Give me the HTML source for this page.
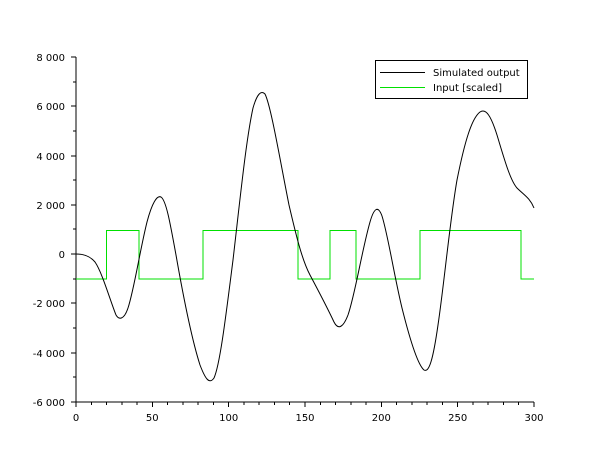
<!DOCTYPE html>
<html><head><meta charset="utf-8"><style>
html,body{margin:0;padding:0;background:#fff;}
svg text{font-family:"DejaVu Sans","Liberation Sans",sans-serif;font-size:10px;fill:#000;}
</style></head><body>
<svg width="610" height="460" viewBox="0 0 610 460" xmlns="http://www.w3.org/2000/svg">
<g stroke="#000" stroke-width="1" fill="none" shape-rendering="crispEdges">
<line x1="76" y1="57" x2="76" y2="402"/>
<line x1="76" y1="402" x2="534" y2="402"/>
<line x1="71" y1="57" x2="76" y2="57"/><line x1="71" y1="106" x2="76" y2="106"/><line x1="71" y1="156" x2="76" y2="156"/><line x1="71" y1="205" x2="76" y2="205"/><line x1="71" y1="254" x2="76" y2="254"/><line x1="71" y1="303" x2="76" y2="303"/><line x1="71" y1="353" x2="76" y2="353"/><line x1="71" y1="402" x2="76" y2="402"/>
<line x1="73" y1="82" x2="76" y2="82"/><line x1="73" y1="131" x2="76" y2="131"/><line x1="73" y1="180" x2="76" y2="180"/><line x1="73" y1="229" x2="76" y2="229"/><line x1="73" y1="279" x2="76" y2="279"/><line x1="73" y1="328" x2="76" y2="328"/><line x1="73" y1="377" x2="76" y2="377"/>
<line x1="76" y1="402" x2="76" y2="407"/><line x1="152.3" y1="402" x2="152.3" y2="407"/><line x1="228.7" y1="402" x2="228.7" y2="407"/><line x1="305" y1="402" x2="305" y2="407"/><line x1="381.3" y1="402" x2="381.3" y2="407"/><line x1="457.7" y1="402" x2="457.7" y2="407"/><line x1="534" y1="402" x2="534" y2="407"/>
<g>
<line x1="91.3" y1="402" x2="91.3" y2="405"/><line x1="106.5" y1="402" x2="106.5" y2="405"/><line x1="121.8" y1="402" x2="121.8" y2="405"/><line x1="137.1" y1="402" x2="137.1" y2="405"/>
<line x1="167.6" y1="402" x2="167.6" y2="405"/><line x1="182.9" y1="402" x2="182.9" y2="405"/><line x1="198.1" y1="402" x2="198.1" y2="405"/><line x1="213.4" y1="402" x2="213.4" y2="405"/>
<line x1="244" y1="402" x2="244" y2="405"/><line x1="259.2" y1="402" x2="259.2" y2="405"/><line x1="274.5" y1="402" x2="274.5" y2="405"/><line x1="289.7" y1="402" x2="289.7" y2="405"/>
<line x1="320.3" y1="402" x2="320.3" y2="405"/><line x1="335.5" y1="402" x2="335.5" y2="405"/><line x1="350.8" y1="402" x2="350.8" y2="405"/><line x1="366.1" y1="402" x2="366.1" y2="405"/>
<line x1="396.6" y1="402" x2="396.6" y2="405"/><line x1="411.9" y1="402" x2="411.9" y2="405"/><line x1="427.1" y1="402" x2="427.1" y2="405"/><line x1="442.4" y1="402" x2="442.4" y2="405"/>
<line x1="473" y1="402" x2="473" y2="405"/><line x1="488.2" y1="402" x2="488.2" y2="405"/><line x1="503.5" y1="402" x2="503.5" y2="405"/><line x1="518.7" y1="402" x2="518.7" y2="405"/>
</g>
</g>
<g text-anchor="end">
<text x="65" y="61">8 000</text><text x="65" y="110">6 000</text><text x="65" y="160">4 000</text><text x="65" y="209">2 000</text><text x="65" y="258">0</text><text x="65" y="307">-2 000</text><text x="65" y="357">-4 000</text><text x="65" y="406">-6 000</text>
</g>
<g text-anchor="middle">
<text x="76" y="421">0</text><text x="152.3" y="421">50</text><text x="228.7" y="421">100</text><text x="305" y="421">150</text><text x="381.3" y="421">200</text><text x="457.7" y="421">250</text><text x="534" y="421">300</text>
</g>
<polyline fill="none" stroke="#00e000" stroke-width="1" points="76,279 106.5,279 106.5,230.5 139,230.5 139,279 203,279 203,230.5 298,230.5 298,279 330,279 330,230.5 356,230.5 356,279 420,279 420,230.5 521,230.5 521,279 534,279"/>
<path fill="none" stroke="#000" stroke-width="1" d="M76,254 C84,254 90,256 95,262 C102,272 110,300 116,315 C119,320 124,320 128,308 C134,290 140,250 147,222 C152,203 157,195 161,197 C166,200 170,222 176,255 C183,295 192,340 200,365 C205,378 209,385 214,378 C220,365 226,315 233,260 C240,200 246,140 253,108 C257,94 261,90 265,94 C271,106 280,160 289,205 C296,235 302,260 310,275 C318,290 326,305 334,322 C338,330 343,328 348,315 C355,295 362,250 370,222 C374,208 378,205 382,216 C388,235 394,275 402,308 C410,340 418,365 424,370 C429,373 433,360 438,325 C444,285 450,220 457,180 C465,140 472,118 480,112 C486,108 491,116 497,135 C504,158 510,180 517,188 C524,195 530,198 534,208"/>
<rect x="375.5" y="60.5" width="152" height="38" fill="#fff" stroke="#000" stroke-width="1" shape-rendering="crispEdges"/>
<line x1="380" y1="72.5" x2="425" y2="72.5" stroke="#000" shape-rendering="crispEdges"/>
<line x1="380" y1="87.5" x2="425" y2="87.5" stroke="#00e000" shape-rendering="crispEdges"/>
<text x="433" y="76">Simulated output</text>
<text x="433" y="91">Input [scaled]</text>
</svg>
</body></html>
